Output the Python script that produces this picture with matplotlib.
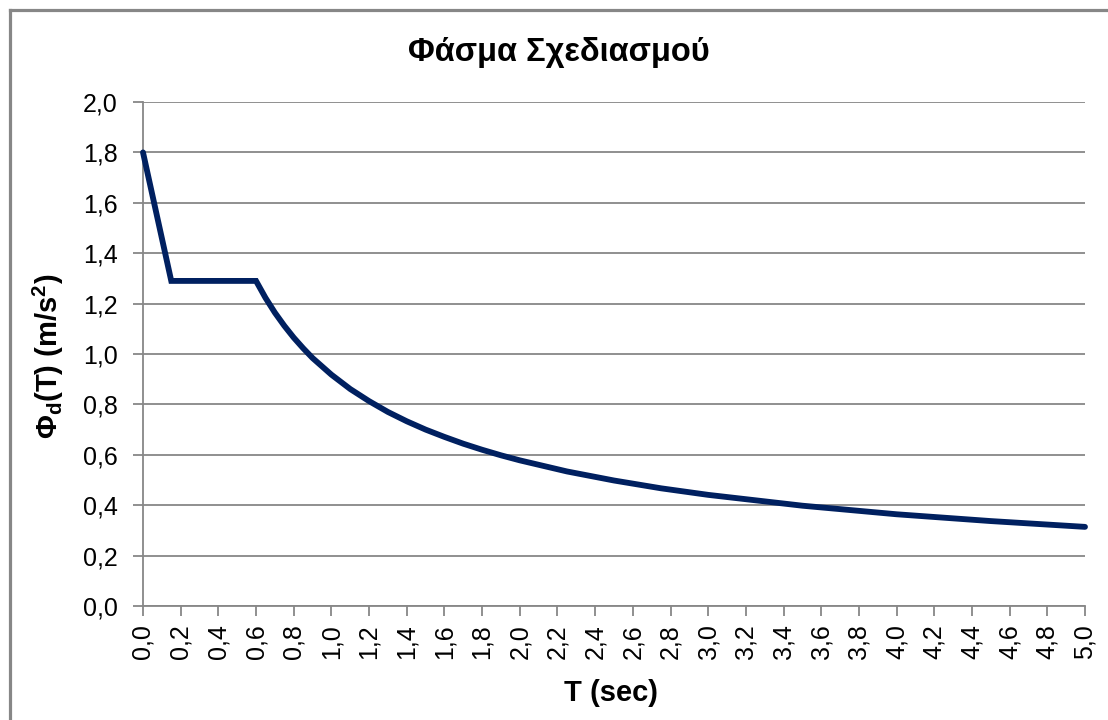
import matplotlib
matplotlib.use("Agg")
import matplotlib.pyplot as plt
from matplotlib.lines import Line2D
from matplotlib.ticker import FixedLocator, FuncFormatter

plt.rcParams['font.family'] = ['Liberation Sans', 'DejaVu Sans']
plt.rcParams['mathtext.fontset'] = 'custom'
plt.rcParams['mathtext.rm'] = 'Liberation Sans:bold'
plt.rcParams['mathtext.bf'] = 'Liberation Sans:bold'

# Data
period_T = [0.0, 0.15, 0.6, 0.65, 0.7, 0.75, 0.8, 0.85, 0.9, 1.0, 1.1, 1.2,
            1.3, 1.4, 1.5, 1.6, 1.7, 1.8, 1.9, 2.0, 2.25, 2.5, 2.75, 3.0,
            3.5, 4.0, 4.5, 5.0]
spectrum_Phi = [1.80, 1.29, 1.29, 1.223, 1.164, 1.112, 1.065, 1.023, 0.984,
                0.918, 0.861, 0.813, 0.770, 0.733, 0.700, 0.671, 0.644,
                0.620, 0.598, 0.578, 0.534, 0.498, 0.467, 0.441, 0.398,
                0.364, 0.337, 0.314]
x_ticks = [i / 5 for i in range(26)]
y_ticks = [i / 5 for i in range(11)]

title = "Φάσμα Σχεδιασμού"
xlabel = "T (sec)"
ylabel = "Φ$_{\\mathbf{d}}$(T) (m/s$^{\\mathbf{2}}$)"

W, H = 1108, 720
fig = plt.figure(figsize=(W / 100, H / 100), dpi=100)
ax = fig.add_axes([143 / W, 1 - 606 / H, (1085 - 143) / W, (606 - 102) / H])

grey = '#878787'
ax.plot(period_T, spectrum_Phi, color='#002060', lw=4.2,
        solid_joinstyle='miter', solid_capstyle='round', zorder=3, clip_on=False)

ax.set_xlim(0, 5)
ax.set_ylim(0, 2)
ax.xaxis.set_major_locator(FixedLocator(x_ticks))
ax.yaxis.set_major_locator(FixedLocator(y_ticks))
fmt = FuncFormatter(lambda v, p: f"{v:.1f}".replace('.', ','))
ax.xaxis.set_major_formatter(fmt)
ax.yaxis.set_major_formatter(fmt)

ax.grid(axis='y', color=grey, lw=1.3)
ax.set_axisbelow(True)
for s in ['top', 'right']:
    ax.spines[s].set_visible(False)
for s in ['left', 'bottom']:
    ax.spines[s].set_color(grey)
    ax.spines[s].set_linewidth(1.3)
ax.tick_params(axis='both', direction='out', length=7, width=1.3, color=grey,
               labelsize=18, labelcolor='black')
ax.tick_params(axis='x', labelrotation=90, pad=6)
ax.tick_params(axis='y', pad=11)

fig.text(559 / W, 1 - 52 / H, title, ha='center', va='center',
         fontsize=23.5, fontweight='bold')
fig.text(611 / W, 1 - 693 / H, xlabel, ha='center', va='center',
         fontsize=21, fontweight='bold')
fig.text(48 / W, 1 - 356 / H, ylabel, ha='center', va='center',
         rotation=90, fontsize=21, fontweight='bold')

# chart area border
fig.add_artist(Line2D([9.5 / W, 1.0], [1 - 9.5 / H, 1 - 9.5 / H],
                      color=grey, lw=2.3, transform=fig.transFigure))
fig.add_artist(Line2D([9.5 / W, 9.5 / W], [0.0, 1 - 9.5 / H],
                      color=grey, lw=2.3, transform=fig.transFigure))

fig.savefig("out.png", dpi=100)
